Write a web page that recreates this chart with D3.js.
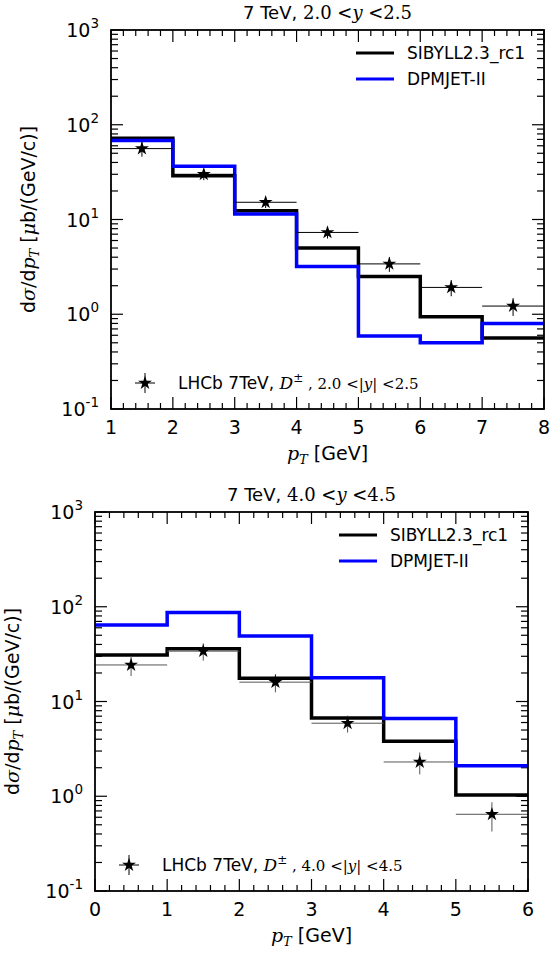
<!DOCTYPE html>
<html>
<head>
<meta charset="utf-8">
<script src="https://cdn.jsdelivr.net/npm/d3@7"></script>
<style>
  body { margin: 0; background: #fff; }
  svg { display: block; }
  text { font-family: "DejaVu Sans", sans-serif; }
  .math { font-family: "DejaVu Serif", "Liberation Serif", serif; }
</style>
</head>
<body>
<div id="chart"></div>
<script>
// panel 1: 2.0 < y < 2.5
var edgesA = [1, 2, 3, 4, 5, 6, 7, 8];
var sibyllA = [72, 29, 12.4, 5.0, 2.5, 0.94, 0.56];
var dpmjetA = [68, 36.5, 11.4, 3.2, 0.59, 0.50, 0.80];
var lhcbXA = [1.5, 2.5, 3.5, 4.5, 5.5, 6.5, 7.5];
var lhcbYA = [56, 30, 15.2, 7.3, 3.4, 1.92, 1.22];
var lhcbErrA = [10, 4, 2, 1.0, 0.6, 0.37, 0.26];

// panel 2: 4.0 < y < 4.5
var edgesB = [0, 1, 2, 3, 4, 5, 6];
var sibyllB = [31, 36, 17.6, 6.7, 3.8, 1.03];
var dpmjetB = [64, 87, 49, 17.8, 6.6, 2.1];
var lhcbXB = [0.5, 1.5, 2.5, 3.5, 4.5, 5.5];
var lhcbYB = [24.3, 34, 16, 5.9, 2.3, 0.645];
var lhcbErrB = [5.7, 7, 3.5, 1.2, 0.6, 0.22];

var yTicks = [0.1, 1, 10, 100, 1000];
var yExp = ['-1', '0', '1', '2', '3'];

var svg = d3.select('#chart').append('svg')
    .attr('width', 552)
    .attr('height', 954);

function drawPanel(cfg) {
    var w = 433, h = 379;
    var g = svg.append('g')
        .attr('transform', 'translate(' + cfg.left + ',' + cfg.top + ')');

    var x = d3.scaleLinear().domain([cfg.edges[0], cfg.edges[cfg.edges.length - 1]]).range([0, w]);
    var y = d3.scaleLog().domain([0.1, 1000]).range([h, 0]);

    // minor ticks (x every 0.2, y 2..9 per decade)
    var xMinor = d3.range(cfg.edges[0], cfg.edges[cfg.edges.length - 1] + 0.001, 0.2)
        .filter(function (v) { return Math.abs(v - Math.round(v)) > 0.01; });
    var yMinor = [];
    [0.1, 1, 10, 100].forEach(function (d) {
        for (var k = 2; k <= 9; k++) yMinor.push(d * k);
    });

    var tk = g.append('g').attr('stroke', '#000').attr('stroke-width', 1.2);
    cfg.edges.forEach(function (v) {
        tk.append('line').attr('x1', x(v)).attr('x2', x(v)).attr('y1', h).attr('y2', h - 12);
        tk.append('line').attr('x1', x(v)).attr('x2', x(v)).attr('y1', 0).attr('y2', 12);
    });
    xMinor.forEach(function (v) {
        tk.append('line').attr('x1', x(v)).attr('x2', x(v)).attr('y1', h).attr('y2', h - 6);
        tk.append('line').attr('x1', x(v)).attr('x2', x(v)).attr('y1', 0).attr('y2', 6);
    });
    yTicks.forEach(function (v) {
        tk.append('line').attr('y1', y(v)).attr('y2', y(v)).attr('x1', 0).attr('x2', 12);
        tk.append('line').attr('y1', y(v)).attr('y2', y(v)).attr('x1', w).attr('x2', w - 12);
    });
    yMinor.forEach(function (v) {
        tk.append('line').attr('y1', y(v)).attr('y2', y(v)).attr('x1', 0).attr('x2', 7);
        tk.append('line').attr('y1', y(v)).attr('y2', y(v)).attr('x1', w).attr('x2', w - 7);
    });

    // x tick labels
    g.append('g').selectAll('text')
        .data(cfg.edges)
        .enter()
        .append('text')
        .attr('x', function (d) { return x(d); })
        .attr('y', h + 25)
        .attr('text-anchor', 'middle')
        .style('font-size', '19px')
        .text(function (d) { return d; });

    // y tick labels 10^n
    var yl = g.append('g').selectAll('text')
        .data(yTicks)
        .enter()
        .append('text')
        .attr('x', -12)
        .attr('y', function (d) { return y(d) + 7; })
        .attr('text-anchor', 'end')
        .style('font-size', '19px');
    yl.append('tspan').text('10');
    yl.append('tspan')
        .attr('dy', -9)
        .style('font-size', '13.5px')
        .text(function (d, i) { return yExp[i]; });

    // histogram steps
    var line = d3.line()
        .x(function (d) { return x(d[0]); })
        .y(function (d) { return y(d[1]); })
        .curve(d3.curveStepAfter);
    function stepPts(vals) {
        var pts = vals.map(function (v, i) { return [cfg.edges[i], v]; });
        pts.push([cfg.edges[cfg.edges.length - 1], vals[vals.length - 1]]);
        return pts;
    }

    // data points with error bars
    var pts = g.append('g');
    cfg.px.forEach(function (px, i) {
        var v = cfg.py[i], e = cfg.pe[i];
        pts.append('line')
            .attr('x1', x(px - 0.5)).attr('x2', x(px + 0.5))
            .attr('y1', y(v)).attr('y2', y(v))
            .attr('stroke', cfg.errColor).attr('stroke-width', 1);
        pts.append('line')
            .attr('x1', x(px)).attr('x2', x(px))
            .attr('y1', y(v + e)).attr('y2', y(v - e))
            .attr('stroke', cfg.errColor).attr('stroke-width', 1);
    });

    g.append('path')
        .attr('d', line(stepPts(cfg.sibyll)))
        .attr('fill', 'none')
        .attr('stroke', '#000')
        .attr('stroke-width', 3.5);
    g.append('path')
        .attr('d', line(stepPts(cfg.dpmjet)))
        .attr('fill', 'none')
        .attr('stroke', '#0000ff')
        .attr('stroke-width', 3.5);

    var star = d3.symbol().type(d3.symbolStar).size(60);
    cfg.px.forEach(function (px, i) {
        pts.append('path')
            .attr('d', star())
            .attr('transform', 'translate(' + x(px) + ',' + y(cfg.py[i]) + ')')
            .attr('fill', '#000');
    });
    g.node().appendChild(pts.node());

    // frame
    g.append('rect')
        .attr('width', w).attr('height', h)
        .attr('fill', 'none')
        .attr('stroke', '#000')
        .attr('stroke-width', 1.8);

    // title
    var t = g.append('text')
        .attr('x', w / 2)
        .attr('y', -11)
        .attr('text-anchor', 'middle')
        .style('font-size', '18px');
    t.append('tspan').text('7 TeV, ');
    t.append('tspan').attr('class', 'math').text(cfg.ylo + ' <');
    t.append('tspan').attr('class', 'math').style('font-style', 'italic').text('y');
    t.append('tspan').attr('class', 'math').text(' <' + cfg.yhi);

    // x label
    var xl = g.append('text')
        .attr('x', w / 2)
        .attr('y', h + 51)
        .attr('text-anchor', 'middle')
        .style('font-size', '19px');
    xl.append('tspan').attr('class', 'math').style('font-style', 'italic').text('p');
    xl.append('tspan').attr('class', 'math').style('font-style', 'italic')
        .style('font-size', '13px').attr('dy', 4).text('T');
    xl.append('tspan').attr('dy', -4).text(' [GeV]');

    // y label
    var ylab = g.append('text')
        .attr('transform', 'translate(' + cfg.ylabX + ',' + h / 2 + ') rotate(-90)')
        .attr('text-anchor', 'middle')
        .style('font-size', '19px');
    ylab.append('tspan').text('d');
    ylab.append('tspan').attr('class', 'math').style('font-style', 'italic').text('σ');
    ylab.append('tspan').attr('class', 'math').text('/');
    ylab.append('tspan').text('d');
    ylab.append('tspan').attr('class', 'math').style('font-style', 'italic').text('p');
    ylab.append('tspan').attr('class', 'math').style('font-style', 'italic')
        .style('font-size', '13px').attr('dy', 4).text('T');
    ylab.append('tspan').attr('dy', -4).text(' [');
    ylab.append('tspan').attr('class', 'math').style('font-style', 'italic').text('μ');
    ylab.append('tspan').text('b/(GeV/c)]');

    // legend (models)
    var lg = g.append('g').attr('transform', 'translate(' + cfg.legX + ',23)');
    [['SIBYLL2.3_rc1', '#000'], ['DPMJET-II', '#0000ff']].forEach(function (d, i) {
        lg.append('line')
            .attr('x1', 0).attr('x2', 38)
            .attr('y1', i * 26).attr('y2', i * 26)
            .attr('stroke', d[1]).attr('stroke-width', 3);
        lg.append('text')
            .attr('x', 51).attr('y', i * 26 + 6)
            .style('font-size', '17px')
            .text(d[0]);
    });

    // legend (data)
    var ld = g.append('g').attr('transform', 'translate(' + cfg.dLegX + ',' + (h - 26) + ')');
    ld.append('line').attr('x1', -10).attr('x2', 10).attr('stroke', '#000').attr('stroke-width', 1);
    ld.append('line').attr('y1', -10).attr('y2', 10).attr('stroke', '#000').attr('stroke-width', 1);
    ld.append('path').attr('d', star()).attr('fill', '#000');
    var lt = ld.append('text').attr('x', 33).attr('y', 6).style('font-size', '17px');
    lt.append('tspan').text('LHCb 7TeV, ');
    lt.append('tspan').attr('class', 'math').style('font-style', 'italic').text('D');
    lt.append('tspan').attr('class', 'math').style('font-size', '12px').attr('dy', -7).text('±');
    lt.append('tspan').attr('class', 'math').style('font-size', '15px').attr('dy', 7)
        .text(' , ' + cfg.ylo + ' <|');
    lt.append('tspan').attr('class', 'math').style('font-size', '15px').style('font-style', 'italic').text('y');
    lt.append('tspan').attr('class', 'math').style('font-size', '15px').text('| <' + cfg.yhi);
}

drawPanel({
    left: 111, top: 30,
    edges: edgesA, sibyll: sibyllA, dpmjet: dpmjetA,
    px: lhcbXA, py: lhcbYA, pe: lhcbErrA,
    errColor: '#000',
    ylo: '2.0', yhi: '2.5',
    ylabX: -76, legX: 245, dLegX: 34
});
drawPanel({
    left: 95, top: 512,
    edges: edgesB, sibyll: sibyllB, dpmjet: dpmjetB,
    px: lhcbXB, py: lhcbYB, pe: lhcbErrB,
    errColor: '#555',
    ylo: '4.0', yhi: '4.5',
    ylabX: -76, legX: 244, dLegX: 34
});
</script>
</body>
</html>
